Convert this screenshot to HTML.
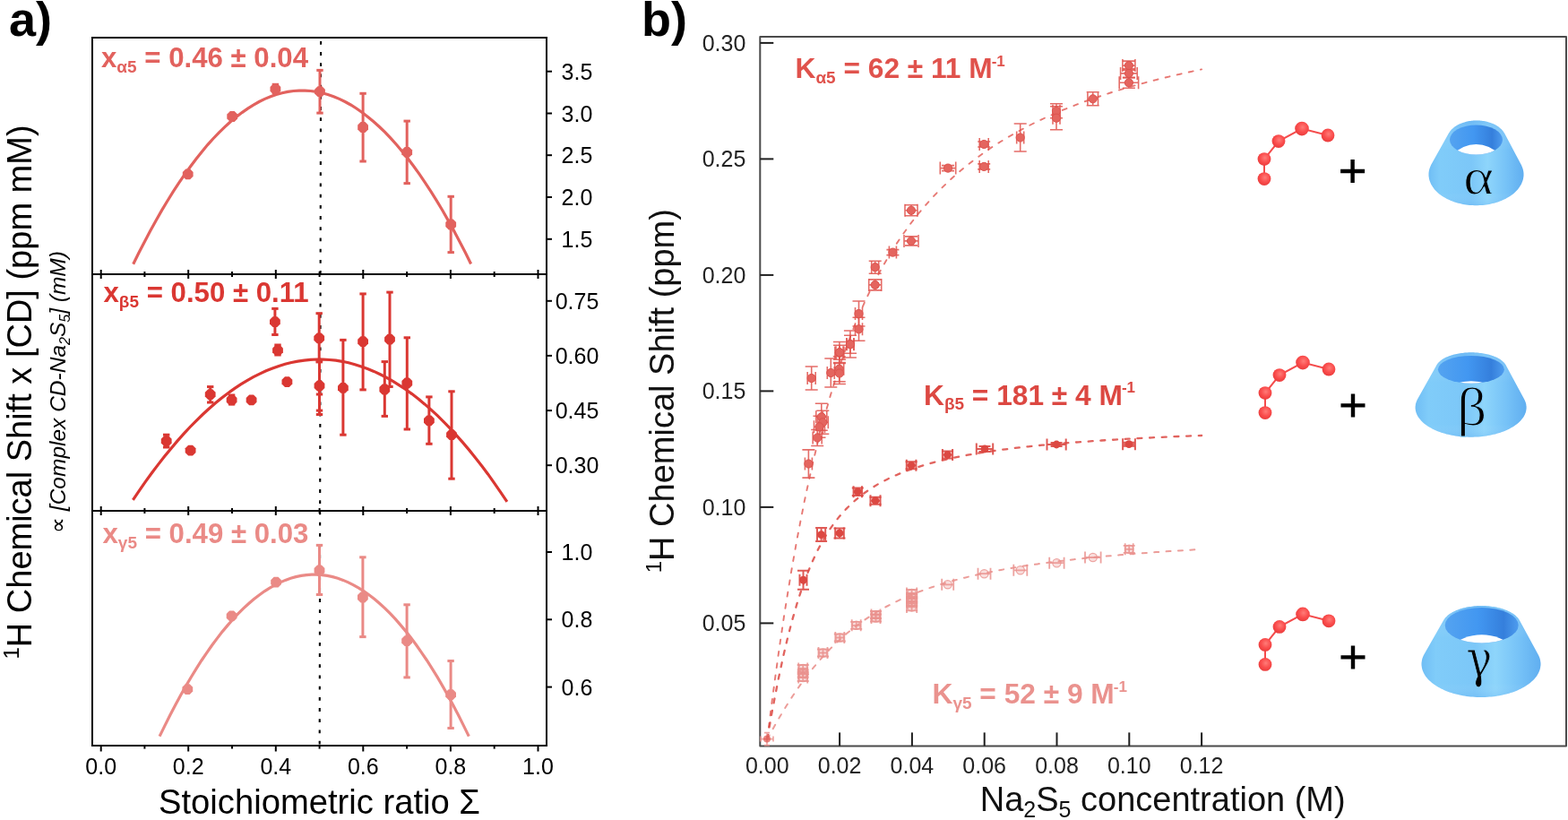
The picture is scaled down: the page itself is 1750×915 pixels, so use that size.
<!DOCTYPE html><html><head><meta charset="utf-8"><style>html,body{margin:0;padding:0;background:#fff;overflow:hidden}svg{display:block}</style></head><body>
<svg width="1750" height="915" viewBox="0 0 1750 915" font-family='"Liberation Sans", Arial, Helvetica, sans-serif'>
<rect width="100%" height="100%" fill="#fff"/>
<text x="10" y="39.7" font-size="54" font-weight="bold" fill="#000">a)</text>
<text x="716" y="39.7" font-size="54" font-weight="bold" fill="#000">b)</text>
<g stroke="#000" stroke-width="2" fill="none">
<rect x="103" y="42" width="507" height="790"/>
<line x1="103" y1="306" x2="610" y2="306"/>
<line x1="103" y1="570" x2="610" y2="570"/>
<line x1="112.7" y1="301" x2="112.7" y2="311"/>
<line x1="112.7" y1="565" x2="112.7" y2="575"/>
<line x1="112.7" y1="832" x2="112.7" y2="838.5"/>
<line x1="161.4" y1="303" x2="161.4" y2="309"/>
<line x1="161.4" y1="567" x2="161.4" y2="573"/>
<line x1="161.4" y1="832" x2="161.4" y2="835.6"/>
<line x1="210.2" y1="301" x2="210.2" y2="311"/>
<line x1="210.2" y1="565" x2="210.2" y2="575"/>
<line x1="210.2" y1="832" x2="210.2" y2="838.5"/>
<line x1="259" y1="303" x2="259" y2="309"/>
<line x1="259" y1="567" x2="259" y2="573"/>
<line x1="259" y1="832" x2="259" y2="835.6"/>
<line x1="307.8" y1="301" x2="307.8" y2="311"/>
<line x1="307.8" y1="565" x2="307.8" y2="575"/>
<line x1="307.8" y1="832" x2="307.8" y2="838.5"/>
<line x1="356.6" y1="303" x2="356.6" y2="309"/>
<line x1="356.6" y1="567" x2="356.6" y2="573"/>
<line x1="356.6" y1="832" x2="356.6" y2="835.6"/>
<line x1="405.3" y1="301" x2="405.3" y2="311"/>
<line x1="405.3" y1="565" x2="405.3" y2="575"/>
<line x1="405.3" y1="832" x2="405.3" y2="838.5"/>
<line x1="454.1" y1="303" x2="454.1" y2="309"/>
<line x1="454.1" y1="567" x2="454.1" y2="573"/>
<line x1="454.1" y1="832" x2="454.1" y2="835.6"/>
<line x1="502.9" y1="301" x2="502.9" y2="311"/>
<line x1="502.9" y1="565" x2="502.9" y2="575"/>
<line x1="502.9" y1="832" x2="502.9" y2="838.5"/>
<line x1="551.7" y1="303" x2="551.7" y2="309"/>
<line x1="551.7" y1="567" x2="551.7" y2="573"/>
<line x1="551.7" y1="832" x2="551.7" y2="835.6"/>
<line x1="600.5" y1="301" x2="600.5" y2="311"/>
<line x1="600.5" y1="565" x2="600.5" y2="575"/>
<line x1="600.5" y1="832" x2="600.5" y2="838.5"/>
<line x1="610" y1="79.7" x2="616" y2="79.7"/>
<line x1="610" y1="126.5" x2="616" y2="126.5"/>
<line x1="610" y1="173.2" x2="616" y2="173.2"/>
<line x1="610" y1="220" x2="616" y2="220"/>
<line x1="610" y1="266.8" x2="616" y2="266.8"/>
<line x1="610" y1="335.8" x2="616" y2="335.8"/>
<line x1="610" y1="396.9" x2="616" y2="396.9"/>
<line x1="610" y1="458.1" x2="616" y2="458.1"/>
<line x1="610" y1="519.2" x2="616" y2="519.2"/>
<line x1="610" y1="616" x2="616" y2="616"/>
<line x1="610" y1="691.3" x2="616" y2="691.3"/>
<line x1="610" y1="766.6" x2="616" y2="766.6"/>
</g>
<line x1="358.1" y1="45.9" x2="356.7" y2="832" stroke="#000" stroke-width="2.1" stroke-dasharray="3.8 8.4"/>
<g font-size="25" fill="#000" text-anchor="middle">
<text x="112.7" y="863.5">0.0</text>
<text x="210.2" y="863.5">0.2</text>
<text x="307.8" y="863.5">0.4</text>
<text x="405.3" y="863.5">0.6</text>
<text x="502.9" y="863.5">0.8</text>
<text x="600.5" y="863.5">1.0</text>
<text x="644" y="88.7">3.5</text>
<text x="644" y="135.5">3.0</text>
<text x="644" y="182.2">2.5</text>
<text x="644" y="229">2.0</text>
<text x="644" y="275.8">1.5</text>
<text x="644" y="344.8">0.75</text>
<text x="644" y="405.9">0.60</text>
<text x="644" y="467.1">0.45</text>
<text x="644" y="528.2">0.30</text>
<text x="644" y="625">1.0</text>
<text x="644" y="700.3">0.8</text>
<text x="644" y="775.6">0.6</text>
</g>
<text x="356.5" y="907.5" font-size="38.2" text-anchor="middle" fill="#000">Stoichiometric ratio Σ</text>
<text transform="translate(35.4,437.5) rotate(-90)" font-size="38" text-anchor="middle" fill="#000"><tspan font-size="24" dy="-14">1</tspan><tspan dy="14">H Chemical Shift x [CD] (ppm mM)</tspan></text>
<text transform="translate(73,437.5) rotate(-90)" font-size="24.5" font-style="italic" text-anchor="middle" fill="#000"><tspan font-style="normal">∝</tspan> [Complex CD-Na<tspan font-size="16" dy="5">2</tspan><tspan dy="-5">S</tspan><tspan font-size="16" dy="5">5</tspan><tspan dy="-5">] (mM)</tspan></text>
<path d="M148.7,294.7 L155.1,281.8 L161.5,269.4 L167.9,257.3 L174.3,245.8 L180.6,234.6 L187.0,224.0 L193.4,213.7 L199.8,203.9 L206.2,194.6 L212.6,185.7 L219.0,177.2 L225.4,169.2 L231.7,161.6 L238.1,154.5 L244.5,147.8 L250.9,141.6 L257.3,135.8 L263.7,130.5 L270.1,125.6 L276.5,121.1 L282.9,117.1 L289.2,113.5 L295.6,110.4 L302.0,107.7 L308.4,105.5 L314.8,103.7 L321.2,102.4 L327.6,101.5 L334.0,101.1 L340.3,101.1 L346.7,101.5 L353.1,102.4 L359.5,103.7 L365.9,105.5 L372.3,107.7 L378.7,110.4 L385.1,113.5 L391.4,117.0 L397.8,121.0 L404.2,125.5 L410.6,130.4 L417.0,135.7 L423.4,141.5 L429.8,147.7 L436.2,154.4 L442.6,161.5 L448.9,169.1 L455.3,177.1 L461.7,185.5 L468.1,194.4 L474.5,203.8 L480.9,213.6 L487.3,223.8 L493.7,234.5 L500.0,245.6 L506.4,257.1 L512.8,269.2 L519.2,281.6 L525.6,294.5" stroke="#E2625E" stroke-width="3.2" fill="none"/>
<polygon points="215.6,196.7 212.1,200.2 207.3,200.2 203.8,196.7 203.8,191.9 207.3,188.4 212.1,188.4 215.6,191.9" fill="#E2625E"/>
<polygon points="265.1,132.4 261.6,135.9 256.8,135.9 253.3,132.4 253.3,127.6 256.8,124.1 261.6,124.1 265.1,127.6" fill="#E2625E"/>
<line x1="307.4" y1="94.3" x2="307.4" y2="104" stroke="#E2625E" stroke-width="3"/><rect x="303.7" y="92.8" width="7.4" height="3" fill="#E2625E"/><rect x="303.7" y="102.5" width="7.4" height="3" fill="#E2625E"/>
<polygon points="313.3,101.7 309.8,105.2 305.0,105.2 301.5,101.7 301.5,96.9 305.0,93.4 309.8,93.4 313.3,96.9" fill="#E2625E"/>
<line x1="357" y1="78.4" x2="357" y2="126.1" stroke="#E2625E" stroke-width="3"/><rect x="353.3" y="76.9" width="7.4" height="3" fill="#E2625E"/><rect x="353.3" y="124.6" width="7.4" height="3" fill="#E2625E"/>
<polygon points="362.9,104.5 359.4,108.0 354.6,108.0 351.1,104.5 351.1,99.7 354.6,96.2 359.4,96.2 362.9,99.7" fill="#E2625E"/>
<line x1="405.1" y1="104.3" x2="405.1" y2="180" stroke="#E2625E" stroke-width="3"/><rect x="401.4" y="102.8" width="7.4" height="3" fill="#E2625E"/><rect x="401.4" y="178.5" width="7.4" height="3" fill="#E2625E"/>
<polygon points="411.0,144.4 407.5,147.9 402.7,147.9 399.2,144.4 399.2,139.6 402.7,136.1 407.5,136.1 411.0,139.6" fill="#E2625E"/>
<line x1="454.2" y1="135.1" x2="454.2" y2="204.6" stroke="#E2625E" stroke-width="3"/><rect x="450.5" y="133.6" width="7.4" height="3" fill="#E2625E"/><rect x="450.5" y="203.1" width="7.4" height="3" fill="#E2625E"/>
<polygon points="460.1,172.2 456.6,175.7 451.8,175.7 448.3,172.2 448.3,167.4 451.8,163.9 456.6,163.9 460.1,167.4" fill="#E2625E"/>
<line x1="503.2" y1="219.3" x2="503.2" y2="281.6" stroke="#E2625E" stroke-width="3"/><rect x="499.5" y="217.8" width="7.4" height="3" fill="#E2625E"/><rect x="499.5" y="280.1" width="7.4" height="3" fill="#E2625E"/>
<polygon points="509.1,252.9 505.6,256.4 500.8,256.4 497.3,252.9 497.3,248.1 500.8,244.6 505.6,244.6 509.1,248.1" fill="#E2625E"/>
<text x="113" y="75.3" font-size="31.2" font-weight="bold" fill="#E2625E">x<tspan font-size="19" dy="5.8">α5</tspan><tspan dy="-5.8"> = 0.46 ± 0.04</tspan></text>
<path d="M148.4,557.9 L155.5,547.4 L162.6,537.2 L169.6,527.5 L176.7,518.1 L183.8,509.1 L190.9,500.4 L197.9,492.1 L205.0,484.1 L212.1,476.5 L219.2,469.3 L226.2,462.5 L233.3,456.0 L240.4,449.8 L247.5,444.1 L254.5,438.7 L261.6,433.6 L268.7,428.9 L275.8,424.6 L282.8,420.6 L289.9,417.1 L297.0,413.8 L304.1,411.0 L311.2,408.4 L318.2,406.3 L325.3,404.5 L332.4,403.1 L339.5,402.1 L346.5,401.4 L353.6,401.0 L360.7,401.1 L367.8,401.5 L374.8,402.2 L381.9,403.3 L389.0,404.8 L396.1,406.7 L403.1,408.9 L410.2,411.5 L417.3,414.4 L424.4,417.7 L431.5,421.3 L438.5,425.4 L445.6,429.8 L452.7,434.5 L459.8,439.6 L466.8,445.1 L473.9,450.9 L481.0,457.1 L488.1,463.7 L495.1,470.6 L502.2,477.9 L509.3,485.6 L516.4,493.6 L523.4,501.9 L530.5,510.7 L537.6,519.8 L544.7,529.2 L551.7,539.1 L558.8,549.3 L565.9,559.8" stroke="#DA3732" stroke-width="3.2" fill="none"/>
<line x1="185.7" y1="485.2" x2="185.7" y2="499" stroke="#DA3732" stroke-width="3"/><rect x="182" y="483.7" width="7.4" height="3" fill="#DA3732"/><rect x="182" y="497.5" width="7.4" height="3" fill="#DA3732"/>
<polygon points="191.6,494.6 188.1,498.1 183.3,498.1 179.8,494.6 179.8,489.8 183.3,486.3 188.1,486.3 191.6,489.8" fill="#DA3732"/>
<polygon points="218.5,505.0 215.0,508.5 210.2,508.5 206.7,505.0 206.7,500.2 210.2,496.7 215.0,496.7 218.5,500.2" fill="#DA3732"/>
<line x1="234.7" y1="431.6" x2="234.7" y2="449" stroke="#DA3732" stroke-width="3"/><rect x="231" y="430.1" width="7.4" height="3" fill="#DA3732"/><rect x="231" y="447.5" width="7.4" height="3" fill="#DA3732"/>
<polygon points="240.6,442.6 237.1,446.1 232.3,446.1 228.8,442.6 228.8,437.8 232.3,434.3 237.1,434.3 240.6,437.8" fill="#DA3732"/>
<line x1="258.6" y1="441" x2="258.6" y2="451" stroke="#DA3732" stroke-width="3"/><rect x="254.9" y="439.5" width="7.4" height="3" fill="#DA3732"/><rect x="254.9" y="449.5" width="7.4" height="3" fill="#DA3732"/>
<polygon points="264.5,448.7 261.0,452.2 256.2,452.2 252.7,448.7 252.7,443.9 256.2,440.4 261.0,440.4 264.5,443.9" fill="#DA3732"/>
<polygon points="286.5,448.7 283.0,452.2 278.2,452.2 274.7,448.7 274.7,443.9 278.2,440.4 283.0,440.4 286.5,443.9" fill="#DA3732"/>
<line x1="306.9" y1="344.4" x2="306.9" y2="373.5" stroke="#DA3732" stroke-width="3"/><rect x="303.2" y="342.9" width="7.4" height="3" fill="#DA3732"/><rect x="303.2" y="372" width="7.4" height="3" fill="#DA3732"/>
<polygon points="312.8,361.5 309.3,365.0 304.5,365.0 301.0,361.5 301.0,356.7 304.5,353.2 309.3,353.2 312.8,356.7" fill="#DA3732"/>
<line x1="310" y1="385" x2="310" y2="396" stroke="#DA3732" stroke-width="3"/><rect x="306.3" y="383.5" width="7.4" height="3" fill="#DA3732"/><rect x="306.3" y="394.5" width="7.4" height="3" fill="#DA3732"/>
<polygon points="315.9,393.3 312.4,396.8 307.6,396.8 304.1,393.3 304.1,388.5 307.6,385.0 312.4,385.0 315.9,388.5" fill="#DA3732"/>
<polygon points="326.3,428.5 322.8,432.0 318.0,432.0 314.5,428.5 314.5,423.7 318.0,420.2 322.8,420.2 326.3,423.7" fill="#DA3732"/>
<line x1="356.2" y1="349.7" x2="356.2" y2="403.9" stroke="#DA3732" stroke-width="3"/><rect x="352.5" y="348.2" width="7.4" height="3" fill="#DA3732"/><rect x="352.5" y="402.4" width="7.4" height="3" fill="#DA3732"/>
<polygon points="362.1,379.7 358.6,383.2 353.8,383.2 350.3,379.7 350.3,374.9 353.8,371.4 358.6,371.4 362.1,374.9" fill="#DA3732"/>
<line x1="356.5" y1="403" x2="356.5" y2="458.1" stroke="#DA3732" stroke-width="3"/><rect x="352.8" y="401.5" width="7.4" height="3" fill="#DA3732"/><rect x="352.8" y="456.6" width="7.4" height="3" fill="#DA3732"/>
<polygon points="362.4,432.9 358.9,436.4 354.1,436.4 350.6,432.9 350.6,428.1 354.1,424.6 358.9,424.6 362.4,428.1" fill="#DA3732"/>
<line x1="382.9" y1="379.4" x2="382.9" y2="485.2" stroke="#DA3732" stroke-width="3"/><rect x="379.2" y="377.9" width="7.4" height="3" fill="#DA3732"/><rect x="379.2" y="483.7" width="7.4" height="3" fill="#DA3732"/>
<polygon points="388.8,435.2 385.3,438.7 380.5,438.7 377.0,435.2 377.0,430.4 380.5,426.9 385.3,426.9 388.8,430.4" fill="#DA3732"/>
<line x1="405.1" y1="327.9" x2="405.1" y2="434.9" stroke="#DA3732" stroke-width="3"/><rect x="401.4" y="326.4" width="7.4" height="3" fill="#DA3732"/><rect x="401.4" y="433.4" width="7.4" height="3" fill="#DA3732"/>
<polygon points="411.0,383.6 407.5,387.1 402.7,387.1 399.2,383.6 399.2,378.8 402.7,375.3 407.5,375.3 411.0,378.8" fill="#DA3732"/>
<line x1="429.3" y1="403.6" x2="429.3" y2="464.4" stroke="#DA3732" stroke-width="3"/><rect x="425.6" y="402.1" width="7.4" height="3" fill="#DA3732"/><rect x="425.6" y="462.9" width="7.4" height="3" fill="#DA3732"/>
<polygon points="435.2,436.9 431.7,440.4 426.9,440.4 423.4,436.9 423.4,432.1 426.9,428.6 431.7,428.6 435.2,432.1" fill="#DA3732"/>
<line x1="435" y1="326.1" x2="435" y2="431.5" stroke="#DA3732" stroke-width="3"/><rect x="431.3" y="324.6" width="7.4" height="3" fill="#DA3732"/><rect x="431.3" y="430" width="7.4" height="3" fill="#DA3732"/>
<polygon points="440.9,381.0 437.4,384.5 432.6,384.5 429.1,381.0 429.1,376.2 432.6,372.7 437.4,372.7 440.9,376.2" fill="#DA3732"/>
<line x1="454.3" y1="376.8" x2="454.3" y2="479" stroke="#DA3732" stroke-width="3"/><rect x="450.6" y="375.3" width="7.4" height="3" fill="#DA3732"/><rect x="450.6" y="477.5" width="7.4" height="3" fill="#DA3732"/>
<polygon points="460.2,429.9 456.7,433.4 451.9,433.4 448.4,429.9 448.4,425.1 451.9,421.6 456.7,421.6 460.2,425.1" fill="#DA3732"/>
<line x1="478.9" y1="442.9" x2="478.9" y2="495.3" stroke="#DA3732" stroke-width="3"/><rect x="475.2" y="441.4" width="7.4" height="3" fill="#DA3732"/><rect x="475.2" y="493.8" width="7.4" height="3" fill="#DA3732"/>
<polygon points="484.8,471.7 481.3,475.2 476.5,475.2 473.0,471.7 473.0,466.9 476.5,463.4 481.3,463.4 484.8,466.9" fill="#DA3732"/>
<line x1="504" y1="436.8" x2="504" y2="534.2" stroke="#DA3732" stroke-width="3"/><rect x="500.3" y="435.3" width="7.4" height="3" fill="#DA3732"/><rect x="500.3" y="532.7" width="7.4" height="3" fill="#DA3732"/>
<polygon points="509.9,487.6 506.4,491.1 501.6,491.1 498.1,487.6 498.1,482.8 501.6,479.3 506.4,479.3 509.9,482.8" fill="#DA3732"/>
<line x1="356.5" y1="440" x2="356.5" y2="462.5" stroke="#DA3732" stroke-width="3"/><rect x="352.8" y="438.5" width="7.4" height="3" fill="#DA3732"/><rect x="352.8" y="461" width="7.4" height="3" fill="#DA3732"/>
<text x="115.5" y="336.7" font-size="31.2" font-weight="bold" fill="#DA3732">x<tspan font-size="19" dy="5.8">β5</tspan><tspan dy="-5.8"> = 0.50 ± 0.11</tspan></text>
<path d="M178.1,821.6 L184.0,809.6 L189.8,798.0 L195.7,786.8 L201.5,776.0 L207.4,765.6 L213.2,755.7 L219.1,746.1 L224.9,737.0 L230.8,728.3 L236.6,720.0 L242.5,712.1 L248.3,704.6 L254.2,697.6 L260.0,690.9 L265.9,684.7 L271.7,678.9 L277.6,673.5 L283.4,668.5 L289.3,664.0 L295.1,659.8 L301.0,656.1 L306.8,652.8 L312.7,649.9 L318.5,647.4 L324.4,645.3 L330.2,643.6 L336.1,642.4 L341.9,641.6 L347.8,641.2 L353.6,641.2 L359.5,641.6 L365.3,642.4 L371.2,643.6 L377.0,645.3 L382.9,647.4 L388.7,649.9 L394.6,652.8 L400.4,656.1 L406.3,659.8 L412.1,664.0 L418.0,668.5 L423.8,673.5 L429.7,678.9 L435.5,684.7 L441.4,690.9 L447.2,697.6 L453.1,704.6 L458.9,712.1 L464.8,720.0 L470.6,728.3 L476.5,737.0 L482.3,746.1 L488.2,755.7 L494.0,765.6 L499.9,776.0 L505.7,786.8 L511.6,798.0 L517.4,809.6 L523.3,821.6" stroke="#EA8A86" stroke-width="3.2" fill="none"/>
<polygon points="215.2,771.5 211.7,775.0 206.9,775.0 203.4,771.5 203.4,766.7 206.9,763.2 211.7,763.2 215.2,766.7" fill="#EA8A86"/>
<polygon points="264.5,689.7 261.0,693.2 256.2,693.2 252.7,689.7 252.7,684.9 256.2,681.4 261.0,681.4 264.5,684.9" fill="#EA8A86"/>
<polygon points="314.0,652.1 310.5,655.6 305.7,655.6 302.2,652.1 302.2,647.3 305.7,643.8 310.5,643.8 314.0,647.3" fill="#EA8A86"/>
<line x1="356.5" y1="608.4" x2="356.5" y2="663.5" stroke="#EA8A86" stroke-width="3"/><rect x="352.8" y="606.9" width="7.4" height="3" fill="#EA8A86"/><rect x="352.8" y="662" width="7.4" height="3" fill="#EA8A86"/>
<polygon points="362.4,638.9 358.9,642.4 354.1,642.4 350.6,638.9 350.6,634.1 354.1,630.6 358.9,630.6 362.4,634.1" fill="#EA8A86"/>
<line x1="404.9" y1="621.8" x2="404.9" y2="710.6" stroke="#EA8A86" stroke-width="3"/><rect x="401.2" y="620.3" width="7.4" height="3" fill="#EA8A86"/><rect x="401.2" y="709.1" width="7.4" height="3" fill="#EA8A86"/>
<polygon points="410.8,668.9 407.3,672.4 402.5,672.4 399.0,668.9 399.0,664.1 402.5,660.6 407.3,660.6 410.8,664.1" fill="#EA8A86"/>
<line x1="454.1" y1="674.8" x2="454.1" y2="755.9" stroke="#EA8A86" stroke-width="3"/><rect x="450.4" y="673.3" width="7.4" height="3" fill="#EA8A86"/><rect x="450.4" y="754.4" width="7.4" height="3" fill="#EA8A86"/>
<polygon points="460.0,717.6 456.5,721.1 451.7,721.1 448.2,717.6 448.2,712.8 451.7,709.3 456.5,709.3 460.0,712.8" fill="#EA8A86"/>
<line x1="503.1" y1="737.5" x2="503.1" y2="812.5" stroke="#EA8A86" stroke-width="3"/><rect x="499.4" y="736" width="7.4" height="3" fill="#EA8A86"/><rect x="499.4" y="811" width="7.4" height="3" fill="#EA8A86"/>
<polygon points="509.0,777.6 505.5,781.1 500.7,781.1 497.2,777.6 497.2,772.8 500.7,769.3 505.5,769.3 509.0,772.8" fill="#EA8A86"/>
<text x="114.5" y="605.9" font-size="31.2" font-weight="bold" fill="#EA8A86">x<tspan font-size="19" dy="5.8">γ5</tspan><tspan dy="-5.8"> = 0.49 ± 0.03</tspan></text>
<rect x="848.3" y="41" width="899.7" height="791.4" stroke="#4a4a4a" stroke-width="2" fill="none" stroke-linejoin="round"/>
<g stroke="#1e1e1e" stroke-width="2" fill="none">
<line x1="848.3" y1="695.4" x2="863.3" y2="695.4"/>
<line x1="848.3" y1="565.9" x2="863.3" y2="565.9"/>
<line x1="848.3" y1="436.4" x2="863.3" y2="436.4"/>
<line x1="848.3" y1="306.9" x2="863.3" y2="306.9"/>
<line x1="848.3" y1="177.4" x2="863.3" y2="177.4"/>
<line x1="848.3" y1="47.9" x2="863.3" y2="47.9"/>
<line x1="937.1" y1="832.4" x2="937.1" y2="817.4"/>
<line x1="1017.9" y1="832.4" x2="1017.9" y2="817.4"/>
<line x1="1098.7" y1="832.4" x2="1098.7" y2="817.4"/>
<line x1="1179.5" y1="832.4" x2="1179.5" y2="817.4"/>
<line x1="1260.3" y1="832.4" x2="1260.3" y2="817.4"/>
<line x1="1341.1" y1="832.4" x2="1341.1" y2="817.4"/>
</g>
<g font-size="25" fill="#222" text-anchor="middle">
<text x="808" y="704.4">0.05</text>
<text x="808" y="574.9">0.10</text>
<text x="808" y="445.4">0.15</text>
<text x="808" y="315.9">0.20</text>
<text x="808" y="186.4">0.25</text>
<text x="808" y="56.9">0.30</text>
<text x="856.3" y="863.2">0.00</text>
<text x="937.1" y="863.2">0.02</text>
<text x="1017.9" y="863.2">0.04</text>
<text x="1098.7" y="863.2">0.06</text>
<text x="1179.5" y="863.2">0.08</text>
<text x="1260.3" y="863.2">0.10</text>
<text x="1341.1" y="863.2">0.12</text>
</g>
<text x="1093.7" y="904.8" font-size="38" fill="#111">Na<tspan font-size="25" dy="7">2</tspan><tspan dy="-7">S</tspan><tspan font-size="25" dy="7">5</tspan><tspan dy="-7"> concentration (M)</tspan></text>
<text transform="translate(751.8,436.2) rotate(-90)" font-size="38" text-anchor="middle" fill="#111"><tspan font-size="24" dy="-14">1</tspan><tspan dy="14">H Chemical Shift (ppm)</tspan></text>
<path d="M856.3,824.9 L858.4,808.2 L860.4,791.9 L862.5,776.0 L864.6,760.4 L866.7,745.3 L868.7,730.6 L870.8,716.2 L872.9,702.2 L874.9,688.5 L877.0,675.3 L879.1,662.3 L881.2,649.7 L883.2,637.4 L885.3,625.4 L887.4,613.8 L889.4,602.4 L891.5,591.4 L893.6,580.6 L895.7,570.1 L897.7,559.9 L899.8,550.0 L901.9,540.3 L904.0,530.9 L906.0,521.7 L908.1,512.7 L910.2,504.0 L912.2,495.5 L914.3,487.2 L916.4,479.2 L918.5,471.3 L920.5,463.6 L922.6,456.1 L924.7,448.9 L926.7,441.8 L928.8,434.8 L930.9,428.1 L933.0,421.5 L935.0,415.0 L937.1,408.8 L939.1,402.8 L944.2,388.3 L949.3,374.7 L954.4,361.8 L959.5,349.7 L964.6,338.2 L969.7,327.3 L974.7,316.9 L979.8,307.2 L984.9,297.9 L990.0,289.0 L995.1,280.6 L1000.2,272.6 L1005.3,264.9 L1010.4,257.7 L1015.4,250.7 L1020.5,244.1 L1025.6,237.7 L1030.7,231.6 L1035.8,225.8 L1040.9,220.2 L1046.0,214.8 L1051.1,209.7 L1056.2,204.8 L1061.2,200.0 L1066.3,195.4 L1071.4,191.0 L1076.5,186.8 L1081.6,182.7 L1086.7,178.8 L1091.8,175.0 L1096.9,171.3 L1101.9,167.8 L1107.0,164.3 L1112.1,161.0 L1117.2,157.8 L1122.3,154.7 L1127.4,151.7 L1132.5,148.8 L1137.6,146.0 L1142.7,143.2 L1147.7,140.6 L1152.8,138.0 L1157.9,135.5 L1163.0,133.1 L1168.1,130.7 L1173.2,128.4 L1178.3,126.2 L1183.4,124.0 L1188.4,121.9 L1193.5,119.9 L1198.6,117.9 L1203.7,115.9 L1208.8,114.0 L1213.9,112.1 L1219.0,110.3 L1224.1,108.6 L1229.2,106.9 L1234.2,105.2 L1239.3,103.5 L1244.4,101.9 L1249.5,100.4 L1254.6,98.9 L1259.7,97.4 L1264.8,95.9 L1269.9,94.5 L1275.0,93.1 L1280.0,91.7 L1285.1,90.4 L1290.2,89.1 L1295.3,87.8 L1300.4,86.6 L1305.5,85.3 L1310.6,84.1 L1315.7,83.0 L1320.7,81.8 L1325.8,80.7 L1330.9,79.6 L1336.0,78.5 L1341.1,77.4" stroke="#E0524C" stroke-opacity="0.78" stroke-width="1.9" fill="none" stroke-dasharray="5 8.4" stroke-linecap="round"/>
<path d="M856.3,824.9 L858.4,812.9 L860.4,801.2 L862.5,789.9 L864.6,778.9 L866.7,768.3 L868.7,758.0 L870.8,748.0 L872.9,738.4 L874.9,729.2 L877.0,720.3 L879.1,711.7 L881.2,703.5 L883.2,695.6 L885.3,688.1 L887.4,680.8 L889.4,673.9 L891.5,667.2 L893.6,660.8 L895.7,654.8 L897.7,648.9 L899.8,643.4 L901.9,638.1 L904.0,633.0 L906.0,628.1 L908.1,623.5 L910.2,619.0 L912.2,614.8 L914.3,610.8 L916.4,606.9 L918.5,603.2 L920.5,599.6 L922.6,596.2 L924.7,593.0 L926.7,589.8 L928.8,586.9 L930.9,584.0 L933.0,581.2 L935.0,578.6 L937.1,576.1 L939.1,573.7 L944.2,568.1 L949.3,563.0 L954.4,558.4 L959.5,554.1 L964.6,550.3 L969.7,546.7 L974.7,543.4 L979.8,540.3 L984.9,537.5 L990.0,534.9 L995.1,532.4 L1000.2,530.2 L1005.3,528.0 L1010.4,526.0 L1015.4,524.2 L1020.5,522.4 L1025.6,520.8 L1030.7,519.2 L1035.8,517.7 L1040.9,516.3 L1046.0,515.0 L1051.1,513.8 L1056.2,512.6 L1061.2,511.4 L1066.3,510.4 L1071.4,509.3 L1076.5,508.4 L1081.6,507.4 L1086.7,506.5 L1091.8,505.7 L1096.9,504.9 L1101.9,504.1 L1107.0,503.3 L1112.1,502.6 L1117.2,501.9 L1122.3,501.3 L1127.4,500.6 L1132.5,500.0 L1137.6,499.4 L1142.7,498.8 L1147.7,498.3 L1152.8,497.8 L1157.9,497.2 L1163.0,496.7 L1168.1,496.3 L1173.2,495.8 L1178.3,495.3 L1183.4,494.9 L1188.4,494.5 L1193.5,494.1 L1198.6,493.7 L1203.7,493.3 L1208.8,492.9 L1213.9,492.6 L1219.0,492.2 L1224.1,491.9 L1229.2,491.5 L1234.2,491.2 L1239.3,490.9 L1244.4,490.6 L1249.5,490.3 L1254.6,490.0 L1259.7,489.7 L1264.8,489.4 L1269.9,489.2 L1275.0,488.9 L1280.0,488.6 L1285.1,488.4 L1290.2,488.1 L1295.3,487.9 L1300.4,487.7 L1305.5,487.4 L1310.6,487.2 L1315.7,487.0 L1320.7,486.8 L1325.8,486.6 L1330.9,486.4 L1336.0,486.2 L1341.1,486.0" stroke="#DC4842" stroke-opacity="0.85" stroke-width="2.3" fill="none" stroke-dasharray="5 8.7" stroke-linecap="round"/>
<path d="M856.3,824.9 L858.4,821.0 L860.4,817.2 L862.5,813.5 L864.6,809.8 L866.7,806.1 L868.7,802.5 L870.8,799.0 L872.9,795.5 L874.9,792.1 L877.0,788.7 L879.1,785.4 L881.2,782.1 L883.2,778.9 L885.3,775.8 L887.4,772.7 L889.4,769.6 L891.5,766.7 L893.6,763.7 L895.7,760.9 L897.7,758.0 L899.8,755.3 L901.9,752.6 L904.0,749.9 L906.0,747.3 L908.1,744.7 L910.2,742.2 L912.2,739.8 L914.3,737.3 L916.4,735.0 L918.5,732.7 L920.5,730.4 L922.6,728.2 L924.7,726.0 L926.7,723.9 L928.8,721.8 L930.9,719.7 L933.0,717.7 L935.0,715.8 L937.1,713.9 L939.1,712.0 L944.2,707.6 L949.3,703.4 L954.4,699.4 L959.5,695.6 L964.6,692.0 L969.7,688.6 L974.7,685.3 L979.8,682.2 L984.9,679.3 L990.0,676.5 L995.1,673.9 L1000.2,671.3 L1005.3,668.9 L1010.4,666.7 L1015.4,664.5 L1020.5,662.4 L1025.6,660.4 L1030.7,658.5 L1035.8,656.7 L1040.9,655.0 L1046.0,653.3 L1051.1,651.7 L1056.2,650.2 L1061.2,648.7 L1066.3,647.3 L1071.4,646.0 L1076.5,644.7 L1081.6,643.4 L1086.7,642.2 L1091.8,641.1 L1096.9,640.0 L1101.9,638.9 L1107.0,637.9 L1112.1,636.9 L1117.2,635.9 L1122.3,635.0 L1127.4,634.1 L1132.5,633.3 L1137.6,632.4 L1142.7,631.6 L1147.7,630.8 L1152.8,630.1 L1157.9,629.4 L1163.0,628.6 L1168.1,628.0 L1173.2,627.3 L1178.3,626.6 L1183.4,626.0 L1188.4,625.4 L1193.5,624.8 L1198.6,624.2 L1203.7,623.7 L1208.8,623.1 L1213.9,622.6 L1219.0,622.1 L1224.1,621.6 L1229.2,621.1 L1234.2,620.6 L1239.3,620.2 L1244.4,619.7 L1249.5,619.3 L1254.6,618.8 L1259.7,618.4 L1264.8,618.0 L1269.9,617.6 L1275.0,617.2 L1280.0,616.9 L1285.1,616.5 L1290.2,616.1 L1295.3,615.8 L1300.4,615.4 L1305.5,615.1 L1310.6,614.8 L1315.7,614.4 L1320.7,614.1 L1325.8,613.8 L1330.9,613.5 L1336.0,613.2 L1341.1,612.9" stroke="#EA928E" stroke-opacity="0.9" stroke-width="2" fill="none" stroke-dasharray="5 8.4" stroke-linecap="round"/>
<g stroke="#E0524C" stroke-width="1.6" stroke-opacity="0.85" fill="none"><path d="M905.7,409V435M898.7,409h14M898.7,435h14"/><path d="M901.2,422H910.2M901.2,415v14M910.2,415v14"/></g>
<g stroke="#E0524C" stroke-width="1.6" stroke-opacity="0.85" fill="none"><path d="M927.3,400V432M920.3,400h14M920.3,432h14"/><path d="M923.3,416H931.3M923.3,409v14M931.3,409v14"/></g>
<g stroke="#E0524C" stroke-width="1.6" stroke-opacity="0.85" fill="none"><path d="M936.9,381.5V405.5M929.9,381.5h14M929.9,405.5h14"/><path d="M931.9,393.5H941.9M931.9,386.5v14M941.9,386.5v14"/></g>
<g stroke="#E0524C" stroke-width="1.6" stroke-opacity="0.85" fill="none"><path d="M936.7,397.7V425.7M929.7,397.7h14M929.7,425.7h14"/><path d="M931.7,411.7H941.7M931.7,404.7v14M941.7,404.7v14"/></g>
<g stroke="#E0524C" stroke-width="1.6" stroke-opacity="0.85" fill="none"><path d="M936.9,404.5V428.5M929.9,404.5h14M929.9,428.5h14"/></g>
<g stroke="#E0524C" stroke-width="1.6" stroke-opacity="0.85" fill="none"><path d="M948.9,369V399M941.9,369h14M941.9,399h14"/><path d="M944.9,384H952.9M944.9,377v14M952.9,377v14"/></g>
<g stroke="#E0524C" stroke-width="1.6" stroke-opacity="0.85" fill="none"><path d="M958.5,336V364M951.5,336h14M951.5,364h14"/><path d="M954.5,350H962.5M954.5,343v14M962.5,343v14"/></g>
<g stroke="#E0524C" stroke-width="1.6" stroke-opacity="0.85" fill="none"><path d="M958.5,354.3V380.3M951.5,354.3h14M951.5,380.3h14"/><path d="M954.5,367.3H962.5M954.5,360.3v14M962.5,360.3v14"/></g>
<g stroke="#E0524C" stroke-width="1.6" stroke-opacity="0.85" fill="none"><path d="M976.7,291.2V305.2M969.7,291.2h14M969.7,305.2h14"/><path d="M972.7,298.2H980.7M972.7,291.2v14M980.7,291.2v14"/></g>
<g stroke="#E0524C" stroke-width="1.6" stroke-opacity="0.85" fill="none"><path d="M976.7,311.9V323.9M969.7,311.9h14M969.7,323.9h14"/><path d="M969.7,317.9H983.7M969.7,310.9v14M983.7,310.9v14"/></g>
<g stroke="#E0524C" stroke-width="1.6" stroke-opacity="0.85" fill="none"><path d="M996.4,278.6V284.6M989.4,278.6h14M989.4,284.6h14"/><path d="M992.4,281.6H1000.4M992.4,274.6v14M1000.4,274.6v14"/></g>
<g stroke="#E0524C" stroke-width="1.6" stroke-opacity="0.85" fill="none"><path d="M1017,228.8V240.8M1010,228.8h14M1010,240.8h14"/><path d="M1010,234.8H1024M1010,227.8v14M1024,227.8v14"/></g>
<g stroke="#E0524C" stroke-width="1.6" stroke-opacity="0.85" fill="none"><path d="M1017,263.9V273.9M1010,263.9h14M1010,273.9h14"/><path d="M1009,268.9H1025M1009,261.9v14M1025,261.9v14"/></g>
<g stroke="#E0524C" stroke-width="1.6" stroke-opacity="0.85" fill="none"><path d="M1058,184.6V190.6M1051,184.6h14M1051,190.6h14"/><path d="M1049.3,187.6H1066.7M1049.3,180.6v14M1066.7,180.6v14"/></g>
<g stroke="#E0524C" stroke-width="1.6" stroke-opacity="0.85" fill="none"><path d="M1098.2,158V164M1091.2,158h14M1091.2,164h14"/><path d="M1093.2,161H1103.2M1093.2,154v14M1103.2,154v14"/></g>
<g stroke="#E0524C" stroke-width="1.6" stroke-opacity="0.85" fill="none"><path d="M1098.2,182.9V188.9M1091.2,182.9h14M1091.2,188.9h14"/><path d="M1093.2,185.9H1103.2M1093.2,178.9v14M1103.2,178.9v14"/></g>
<g stroke="#E0524C" stroke-width="1.6" stroke-opacity="0.85" fill="none"><path d="M1138.7,138V169M1131.7,138h14M1131.7,169h14"/><path d="M1134.7,153.5H1142.7M1134.7,146.5v14M1142.7,146.5v14"/></g>
<g stroke="#E0524C" stroke-width="1.6" stroke-opacity="0.85" fill="none"><path d="M1179,115.8V131.8M1172,115.8h14M1172,131.8h14"/><path d="M1175,123.8H1183M1175,116.8v14M1183,116.8v14"/></g>
<g stroke="#E0524C" stroke-width="1.6" stroke-opacity="0.85" fill="none"><path d="M1179,118.7V144.7M1172,118.7h14M1172,144.7h14"/><path d="M1175,131.7H1183M1175,124.7v14M1183,124.7v14"/></g>
<g stroke="#E0524C" stroke-width="1.6" stroke-opacity="0.85" fill="none"><path d="M1219.7,102.8V117.8M1212.7,102.8h14M1212.7,117.8h14"/><path d="M1213.9,110.3H1225.5M1213.9,103.3v14M1225.5,103.3v14"/></g>
<g stroke="#E0524C" stroke-width="1.6" stroke-opacity="0.85" fill="none"><path d="M1259.9,68.1V78.1M1252.9,68.1h14M1252.9,78.1h14"/><path d="M1252.9,73.1H1266.9M1252.9,66.1v14M1266.9,66.1v14"/></g>
<g stroke="#E0524C" stroke-width="1.6" stroke-opacity="0.85" fill="none"><path d="M1259.9,76.9V86.9M1252.9,76.9h14M1252.9,86.9h14"/><path d="M1250.6,81.9H1269.2M1250.6,74.9v14M1269.2,74.9v14"/></g>
<g stroke="#E0524C" stroke-width="1.6" stroke-opacity="0.85" fill="none"><path d="M1259.9,86.3V98.3M1252.9,86.3h14M1252.9,98.3h14"/><path d="M1249.2,92.3H1270.6M1249.2,85.3v14M1270.6,85.3v14"/></g>
<g stroke="#E0524C" stroke-width="1.6" stroke-opacity="0.85" fill="none"><path d="M902.4,501.9V533.1M895.4,501.9h14M895.4,533.1h14"/><path d="M898.4,517.5H906.4M898.4,510.5v14M906.4,510.5v14"/></g>
<g stroke="#E0524C" stroke-width="1.6" stroke-opacity="0.85" fill="none"><path d="M916.8,450.2V480.2M909.8,450.2h14M909.8,480.2h14"/><path d="M910.8,465.2H922.8M910.8,458.2v14M922.8,458.2v14"/></g>
<g stroke="#E0524C" stroke-width="1.6" stroke-opacity="0.85" fill="none"><path d="M918.3,458.3V484.3M911.3,458.3h14M911.3,484.3h14"/><path d="M912.3,471.3H924.3M912.3,464.3v14M924.3,464.3v14"/></g>
<g stroke="#E0524C" stroke-width="1.6" stroke-opacity="0.85" fill="none"><path d="M914.5,464.3V488.3M907.5,464.3h14M907.5,488.3h14"/><path d="M908.5,476.3H920.5M908.5,469.3v14M920.5,469.3v14"/></g>
<g stroke="#E0524C" stroke-width="1.6" stroke-opacity="0.85" fill="none"><path d="M912.2,479.5V497.5M905.2,479.5h14M905.2,497.5h14"/><path d="M907.2,488.5H917.2M907.2,481.5v14M917.2,481.5v14"/></g>
<g stroke="#E0524C" stroke-width="1.6" stroke-opacity="0.85" fill="none"><path d="M949,374.3V394.3M942,374.3h14M942,394.3h14"/><path d="M945,384.3H953M945,377.3v14M953,377.3v14"/></g>
<g stroke="#E0524C" stroke-width="1.6" stroke-opacity="0.85" fill="none"><path d="M937,385.2V401.2M930,385.2h14M930,401.2h14"/><path d="M933,393.2H941M933,386.2v14M941,386.2v14"/></g>
<circle cx="905.7" cy="422" r="4.6" fill="#E4655F" stroke="#DE534E" stroke-width="1"/>
<circle cx="927.3" cy="416" r="4.6" fill="#E4655F" stroke="#DE534E" stroke-width="1"/>
<circle cx="936.9" cy="393.5" r="4.6" fill="#E4655F" stroke="#DE534E" stroke-width="1"/>
<circle cx="936.7" cy="411.7" r="4.6" fill="#E4655F" stroke="#DE534E" stroke-width="1"/>
<circle cx="936.9" cy="416.5" r="4.6" fill="#E4655F" stroke="#DE534E" stroke-width="1"/>
<circle cx="948.9" cy="384" r="4.6" fill="#E4655F" stroke="#DE534E" stroke-width="1"/>
<circle cx="958.5" cy="350" r="4.6" fill="#E4655F" stroke="#DE534E" stroke-width="1"/>
<circle cx="958.5" cy="367.3" r="4.6" fill="#E4655F" stroke="#DE534E" stroke-width="1"/>
<circle cx="976.7" cy="298.2" r="4.6" fill="#E4655F" stroke="#DE534E" stroke-width="1"/>
<circle cx="976.7" cy="317.9" r="4.6" fill="#E4655F" stroke="#DE534E" stroke-width="1"/>
<circle cx="996.4" cy="281.6" r="4.6" fill="#E4655F" stroke="#DE534E" stroke-width="1"/>
<circle cx="1017" cy="234.8" r="4.6" fill="#E4655F" stroke="#DE534E" stroke-width="1"/>
<circle cx="1017" cy="268.9" r="4.6" fill="#E4655F" stroke="#DE534E" stroke-width="1"/>
<circle cx="1058" cy="187.6" r="4.6" fill="#E4655F" stroke="#DE534E" stroke-width="1"/>
<circle cx="1098.2" cy="161" r="4.6" fill="#E4655F" stroke="#DE534E" stroke-width="1"/>
<circle cx="1098.2" cy="185.9" r="4.6" fill="#E4655F" stroke="#DE534E" stroke-width="1"/>
<circle cx="1138.7" cy="153.5" r="4.6" fill="#E4655F" stroke="#DE534E" stroke-width="1"/>
<circle cx="1179" cy="123.8" r="4.6" fill="#E4655F" stroke="#DE534E" stroke-width="1"/>
<circle cx="1179" cy="131.7" r="4.6" fill="#E4655F" stroke="#DE534E" stroke-width="1"/>
<circle cx="1219.7" cy="110.3" r="4.6" fill="#E4655F" stroke="#DE534E" stroke-width="1"/>
<circle cx="1259.9" cy="73.1" r="4.6" fill="#E4655F" stroke="#DE534E" stroke-width="1"/>
<circle cx="1259.9" cy="81.9" r="4.6" fill="#E4655F" stroke="#DE534E" stroke-width="1"/>
<circle cx="1259.9" cy="92.3" r="4.6" fill="#E4655F" stroke="#DE534E" stroke-width="1"/>
<circle cx="902.4" cy="517.5" r="4.6" fill="#E4655F" stroke="#DE534E" stroke-width="1"/>
<circle cx="916.8" cy="465.2" r="4.6" fill="#E4655F" stroke="#DE534E" stroke-width="1"/>
<circle cx="918.3" cy="471.3" r="4.6" fill="#E4655F" stroke="#DE534E" stroke-width="1"/>
<circle cx="914.5" cy="476.3" r="4.6" fill="#E4655F" stroke="#DE534E" stroke-width="1"/>
<circle cx="912.2" cy="488.5" r="4.6" fill="#E4655F" stroke="#DE534E" stroke-width="1"/>
<circle cx="949" cy="384.3" r="4.6" fill="#E4655F" stroke="#DE534E" stroke-width="1"/>
<circle cx="937" cy="393.2" r="4.6" fill="#E4655F" stroke="#DE534E" stroke-width="1"/>
<g stroke="#DC4842" stroke-width="2" stroke-opacity="0.9" fill="none"><path d="M896.5,636.7V657.7M890,636.7h13M890,657.7h13"/><path d="M892.5,647.2H900.5M892.5,640.7v13M900.5,640.7v13"/></g>
<circle cx="896.5" cy="647.2" r="4.4" fill="#DC4842"/>
<g stroke="#DC4842" stroke-width="2" stroke-opacity="0.9" fill="none"><path d="M916.6,589.1V604.1M910.1,589.1h13M910.1,604.1h13"/><path d="M912,596.6H921.2M912,590.1v13M921.2,590.1v13"/></g>
<circle cx="916.6" cy="596.6" r="4.4" fill="#DC4842"/>
<g stroke="#DC4842" stroke-width="2" stroke-opacity="0.9" fill="none"><path d="M937,589.4V600.4M930.5,589.4h13M930.5,600.4h13"/><path d="M932.2,594.9H941.8M932.2,588.4v13M941.8,588.4v13"/></g>
<circle cx="937" cy="594.9" r="4.4" fill="#DC4842"/>
<g stroke="#DC4842" stroke-width="2" stroke-opacity="0.9" fill="none"><path d="M957.3,544.4V553M950.8,544.4h13M950.8,553h13"/><path d="M952.6,548.7H962M952.6,542.2v13M962,542.2v13"/></g>
<circle cx="957.3" cy="548.7" r="4.4" fill="#DC4842"/>
<g stroke="#DC4842" stroke-width="2" stroke-opacity="0.9" fill="none"><path d="M977,554.7V562.7M970.5,554.7h13M970.5,562.7h13"/><path d="M971.5,558.7H982.5M971.5,552.2v13M982.5,552.2v13"/></g>
<circle cx="977" cy="558.7" r="4.4" fill="#DC4842"/>
<g stroke="#DC4842" stroke-width="2" stroke-opacity="0.9" fill="none"><path d="M1017.1,515.3V523.3M1010.6,515.3h13M1010.6,523.3h13"/><path d="M1011.8,519.3H1022.4M1011.8,512.8v13M1022.4,512.8v13"/></g>
<circle cx="1017.1" cy="519.3" r="4.4" fill="#DC4842"/>
<g stroke="#DC4842" stroke-width="2" stroke-opacity="0.9" fill="none"><path d="M1057.5,503.5V511.5M1051,503.5h13M1051,511.5h13"/><path d="M1051.9,507.5H1063.1M1051.9,501v13M1063.1,501v13"/></g>
<circle cx="1057.5" cy="507.5" r="4.4" fill="#DC4842"/>
<g stroke="#DC4842" stroke-width="2" stroke-opacity="0.9" fill="none"><path d="M1099,498V504M1092.5,498h13M1092.5,504h13"/><path d="M1089.8,501H1108.2M1089.8,494.5v13M1108.2,494.5v13"/></g>
<circle cx="1099" cy="501" r="4.4" fill="#DC4842"/>
<g stroke="#DC4842" stroke-width="2" stroke-opacity="0.9" fill="none"><path d="M1179.1,494V498M1172.6,494h13M1172.6,498h13"/><path d="M1168.5,496H1189.7M1168.5,489.5v13M1189.7,489.5v13"/></g>
<circle cx="1179.1" cy="496" r="4.4" fill="#DC4842"/>
<g stroke="#DC4842" stroke-width="2" stroke-opacity="0.9" fill="none"><path d="M1260,493.7V497.7M1253.5,493.7h13M1253.5,497.7h13"/><path d="M1253.1,495.7H1266.9M1253.1,489.2v13M1266.9,489.2v13"/></g>
<circle cx="1260" cy="495.7" r="4.4" fill="#DC4842"/>
<g stroke="#EA928E" stroke-width="1.8" stroke-opacity="0.85" fill="none"><path d="M896.2,742V750M889.7,742h13M889.7,750h13"/><path d="M891.2,746H901.2M891.2,739.5v13M901.2,739.5v13"/></g>
<circle cx="896.2" cy="746" r="4.6" fill="#EA928E" fill-opacity="0.3" stroke="#EA928E" stroke-width="1.3" stroke-opacity="0.8"/>
<g stroke="#EA928E" stroke-width="1.8" stroke-opacity="0.85" fill="none"><path d="M896.2,747.6V755.6M889.7,747.6h13M889.7,755.6h13"/><path d="M891.2,751.6H901.2M891.2,745.1v13M901.2,745.1v13"/></g>
<circle cx="896.2" cy="751.6" r="4.6" fill="#EA928E" fill-opacity="0.3" stroke="#EA928E" stroke-width="1.3" stroke-opacity="0.8"/>
<g stroke="#EA928E" stroke-width="1.8" stroke-opacity="0.85" fill="none"><path d="M896.2,752V760M889.7,752h13M889.7,760h13"/><path d="M891.2,756H901.2M891.2,749.5v13M901.2,749.5v13"/></g>
<circle cx="896.2" cy="756" r="4.6" fill="#EA928E" fill-opacity="0.3" stroke="#EA928E" stroke-width="1.3" stroke-opacity="0.8"/>
<g stroke="#EA928E" stroke-width="1.8" stroke-opacity="0.85" fill="none"><path d="M918.5,724.5V732.5M912,724.5h13M912,732.5h13"/><path d="M913.5,728.5H923.5M913.5,722v13M923.5,722v13"/></g>
<circle cx="918.5" cy="728.5" r="4.6" fill="#EA928E" fill-opacity="0.3" stroke="#EA928E" stroke-width="1.3" stroke-opacity="0.8"/>
<g stroke="#EA928E" stroke-width="1.8" stroke-opacity="0.85" fill="none"><path d="M937.3,707.5V715.5M930.8,707.5h13M930.8,715.5h13"/><path d="M932.3,711.5H942.3M932.3,705v13M942.3,705v13"/></g>
<circle cx="937.3" cy="711.5" r="4.6" fill="#EA928E" fill-opacity="0.3" stroke="#EA928E" stroke-width="1.3" stroke-opacity="0.8"/>
<g stroke="#EA928E" stroke-width="1.8" stroke-opacity="0.85" fill="none"><path d="M955.7,693.8V701.8M949.2,693.8h13M949.2,701.8h13"/><path d="M950.7,697.8H960.7M950.7,691.3v13M960.7,691.3v13"/></g>
<circle cx="955.7" cy="697.8" r="4.6" fill="#EA928E" fill-opacity="0.3" stroke="#EA928E" stroke-width="1.3" stroke-opacity="0.8"/>
<g stroke="#EA928E" stroke-width="1.8" stroke-opacity="0.85" fill="none"><path d="M977.5,682V690M971,682h13M971,690h13"/><path d="M972.5,686H982.5M972.5,679.5v13M982.5,679.5v13"/></g>
<circle cx="977.5" cy="686" r="4.6" fill="#EA928E" fill-opacity="0.3" stroke="#EA928E" stroke-width="1.3" stroke-opacity="0.8"/>
<g stroke="#EA928E" stroke-width="1.8" stroke-opacity="0.85" fill="none"><path d="M977.5,685.5V693.5M971,685.5h13M971,693.5h13"/><path d="M972.5,689.5H982.5M972.5,683v13M982.5,683v13"/></g>
<circle cx="977.5" cy="689.5" r="4.6" fill="#EA928E" fill-opacity="0.3" stroke="#EA928E" stroke-width="1.3" stroke-opacity="0.8"/>
<g stroke="#EA928E" stroke-width="1.8" stroke-opacity="0.85" fill="none"><path d="M1017.6,658V666M1011.1,658h13M1011.1,666h13"/><path d="M1012,662H1023.2M1012,655.5v13M1023.2,655.5v13"/></g>
<circle cx="1017.6" cy="662" r="4.6" fill="#EA928E" fill-opacity="0.3" stroke="#EA928E" stroke-width="1.3" stroke-opacity="0.8"/>
<g stroke="#EA928E" stroke-width="1.8" stroke-opacity="0.85" fill="none"><path d="M1017.6,663V671M1011.1,663h13M1011.1,671h13"/><path d="M1012,667H1023.2M1012,660.5v13M1023.2,660.5v13"/></g>
<circle cx="1017.6" cy="667" r="4.6" fill="#EA928E" fill-opacity="0.3" stroke="#EA928E" stroke-width="1.3" stroke-opacity="0.8"/>
<g stroke="#EA928E" stroke-width="1.8" stroke-opacity="0.85" fill="none"><path d="M1017.6,668V676M1011.1,668h13M1011.1,676h13"/><path d="M1012,672H1023.2M1012,665.5v13M1023.2,665.5v13"/></g>
<circle cx="1017.6" cy="672" r="4.6" fill="#EA928E" fill-opacity="0.3" stroke="#EA928E" stroke-width="1.3" stroke-opacity="0.8"/>
<g stroke="#EA928E" stroke-width="1.8" stroke-opacity="0.85" fill="none"><path d="M1017.6,673.4V681.4M1011.1,673.4h13M1011.1,681.4h13"/><path d="M1012,677.4H1023.2M1012,670.9v13M1023.2,670.9v13"/></g>
<circle cx="1017.6" cy="677.4" r="4.6" fill="#EA928E" fill-opacity="0.3" stroke="#EA928E" stroke-width="1.3" stroke-opacity="0.8"/>
<g stroke="#EA928E" stroke-width="1.8" stroke-opacity="0.85" fill="none"><path d="M1051.2,652.3H1064.2M1051.2,645.8v13M1064.2,645.8v13"/></g>
<circle cx="1057.7" cy="652.3" r="4.6" fill="#EA928E" fill-opacity="0.3" stroke="#EA928E" stroke-width="1.3" stroke-opacity="0.8"/>
<g stroke="#EA928E" stroke-width="1.8" stroke-opacity="0.85" fill="none"><path d="M1091.5,640.2H1105.5M1091.5,633.7v13M1105.5,633.7v13"/></g>
<circle cx="1098.5" cy="640.2" r="4.6" fill="#EA928E" fill-opacity="0.3" stroke="#EA928E" stroke-width="1.3" stroke-opacity="0.8"/>
<g stroke="#EA928E" stroke-width="1.8" stroke-opacity="0.85" fill="none"><path d="M1131.3,636.3H1146.3M1131.3,629.8v13M1146.3,629.8v13"/></g>
<circle cx="1138.8" cy="636.3" r="4.6" fill="#EA928E" fill-opacity="0.3" stroke="#EA928E" stroke-width="1.3" stroke-opacity="0.8"/>
<g stroke="#EA928E" stroke-width="1.8" stroke-opacity="0.85" fill="none"><path d="M1171.2,628.2H1187.6M1171.2,621.7v13M1187.6,621.7v13"/></g>
<circle cx="1179.4" cy="628.2" r="4.6" fill="#EA928E" fill-opacity="0.3" stroke="#EA928E" stroke-width="1.3" stroke-opacity="0.8"/>
<g stroke="#EA928E" stroke-width="1.8" stroke-opacity="0.85" fill="none"><path d="M1211,622H1228.6M1211,615.5v13M1228.6,615.5v13"/></g>
<circle cx="1219.8" cy="622" r="4.6" fill="#EA928E" fill-opacity="0.3" stroke="#EA928E" stroke-width="1.3" stroke-opacity="0.8"/>
<g stroke="#EA928E" stroke-width="1.8" stroke-opacity="0.85" fill="none"><path d="M1260.2,608.8V616.8M1253.7,608.8h13M1253.7,616.8h13"/><path d="M1255.7,612.8H1264.7M1255.7,606.3v13M1264.7,606.3v13"/></g>
<circle cx="1260.2" cy="612.8" r="4.6" fill="#EA928E" fill-opacity="0.3" stroke="#EA928E" stroke-width="1.3" stroke-opacity="0.8"/>
<g stroke="#EA928E" stroke-width="1.6" stroke-opacity="0.85" fill="none"><path d="M856,817.6V831.6M853,817.6h6M853,831.6h6"/><path d="M849,824.6H863M849,821.6v6M863,821.6v6"/></g>
<circle cx="856" cy="824.6" r="4" fill="#E0524C" fill-opacity="0.7"/>
<text x="887.5" y="87.4" font-size="31.7" font-weight="bold" fill="#E0524C">K<tspan font-size="19" dy="5.5">α5</tspan><tspan dy="-5.5"> = 62 ± 11 M</tspan><tspan font-size="17" dy="-13.5" dx="-1">-1</tspan></text>
<text x="1031" y="451.8" font-size="31.7" font-weight="bold" fill="#DC4842">K<tspan font-size="19" dy="5.5">β5</tspan><tspan dy="-5.5"> = 181 ± 4 M</tspan><tspan font-size="17" dy="-13.5" dx="-1">-1</tspan></text>
<text x="1040.5" y="785" font-size="31.7" font-weight="bold" fill="#EA928E">K<tspan font-size="19" dy="5.5">γ5</tspan><tspan dy="-5.5"> = 52 ± 9 M</tspan><tspan font-size="17" dy="-13.5" dx="-1">-1</tspan></text>
<defs><radialGradient id="atom" cx="0.55" cy="0.4" r="0.65"><stop offset="0" stop-color="#FF7C78"/><stop offset="0.55" stop-color="#FA4C4C"/><stop offset="1" stop-color="#E63A3A"/></radialGradient><linearGradient id="cone" x1="0" x2="1" y1="0" y2="0"><stop offset="0" stop-color="#70BEF5"/><stop offset="0.12" stop-color="#80CCF9"/><stop offset="0.45" stop-color="#7CC7F8"/><stop offset="0.62" stop-color="#8ED5FB"/><stop offset="0.82" stop-color="#76C2F7"/><stop offset="1" stop-color="#60AEF0"/></linearGradient><linearGradient id="hole" x1="0" x2="1" y1="0" y2="0"><stop offset="0" stop-color="#54A3F0"/><stop offset="0.45" stop-color="#4297F1"/><stop offset="0.8" stop-color="#357FDC"/><stop offset="1" stop-color="#4E9CEE"/></linearGradient></defs>
<g><polyline points="1411.0,199.6 1411.0,177.6 1427.0,157.6 1453.0,143.6 1482.0,151.0" stroke="#F44C4C" stroke-width="2" fill="none"/><circle cx="1411.0" cy="199.6" r="7.4" fill="url(#atom)"/><circle cx="1411.0" cy="177.6" r="7.4" fill="url(#atom)"/><circle cx="1427.0" cy="157.6" r="7.4" fill="url(#atom)"/><circle cx="1453.0" cy="143.6" r="7.8" fill="url(#atom)"/><circle cx="1482.0" cy="151.0" r="7.4" fill="url(#atom)"/></g>
<path d="M1496.1,191H1523.1M1509.6,178V204" stroke="#000" stroke-width="4.4"/>
<g><polyline points="1412.0,460.6 1412.0,438.6 1428.0,418.6 1454.0,404.6 1483.0,412.0" stroke="#F44C4C" stroke-width="2" fill="none"/><circle cx="1412.0" cy="460.6" r="7.4" fill="url(#atom)"/><circle cx="1412.0" cy="438.6" r="7.4" fill="url(#atom)"/><circle cx="1428.0" cy="418.6" r="7.4" fill="url(#atom)"/><circle cx="1454.0" cy="404.6" r="7.8" fill="url(#atom)"/><circle cx="1483.0" cy="412.0" r="7.4" fill="url(#atom)"/></g>
<path d="M1496.5,452.4H1523.5M1510,439.4V465.4" stroke="#000" stroke-width="4.4"/>
<g><polyline points="1412.0,741.4 1412.0,719.4 1428.0,699.4 1454.0,685.4 1483.0,692.8" stroke="#F44C4C" stroke-width="2" fill="none"/><circle cx="1412.0" cy="741.4" r="7.4" fill="url(#atom)"/><circle cx="1412.0" cy="719.4" r="7.4" fill="url(#atom)"/><circle cx="1428.0" cy="699.4" r="7.4" fill="url(#atom)"/><circle cx="1454.0" cy="685.4" r="7.8" fill="url(#atom)"/><circle cx="1483.0" cy="692.8" r="7.4" fill="url(#atom)"/></g>
<path d="M1496.5,733.4H1523.5M1510,720.4V746.4" stroke="#000" stroke-width="4.4"/>
<defs><linearGradient id="coneV" x1="0" x2="0" y1="0" y2="1"><stop offset="0" stop-color="#3D8FEA" stop-opacity="0.25"/><stop offset="0.35" stop-color="#fff" stop-opacity="0"/><stop offset="0.85" stop-color="#fff" stop-opacity="0"/><stop offset="1" stop-color="#3D8FEA" stop-opacity="0.15"/></linearGradient></defs>
<path d="M1597.1,184.0 L1597.7,182.9 L1617.0,148.6 L1617.4,147.9 L1617.9,147.3 L1618.3,146.6 L1618.9,145.9 L1619.4,145.2 L1620.0,144.6 L1620.6,144.0 L1621.3,143.4 L1622.0,142.8 L1622.7,142.2 L1623.5,141.6 L1624.3,141.1 L1625.1,140.5 L1625.9,140.0 L1626.8,139.5 L1627.7,139.1 L1628.6,138.6 L1629.5,138.2 L1630.5,137.8 L1631.5,137.4 L1632.5,137.0 L1633.5,136.7 L1634.6,136.4 L1635.6,136.1 L1636.7,135.8 L1637.8,135.6 L1638.9,135.3 L1640.0,135.1 L1641.1,135.0 L1642.3,134.8 L1643.4,134.7 L1644.6,134.6 L1645.7,134.6 L1646.8,134.5 L1648.0,134.5 L1649.2,134.5 L1650.3,134.6 L1651.4,134.6 L1652.6,134.7 L1653.7,134.8 L1654.9,135.0 L1656.0,135.1 L1657.1,135.3 L1658.2,135.6 L1659.3,135.8 L1660.4,136.1 L1661.4,136.4 L1662.5,136.7 L1663.5,137.0 L1664.5,137.4 L1665.5,137.8 L1666.5,138.2 L1667.4,138.6 L1668.3,139.1 L1669.2,139.5 L1670.1,140.0 L1670.9,140.5 L1671.7,141.1 L1672.5,141.6 L1673.3,142.2 L1674.0,142.8 L1674.7,143.4 L1675.4,144.0 L1676.0,144.6 L1676.6,145.2 L1677.1,145.9 L1677.7,146.6 L1678.1,147.3 L1678.6,147.9 L1679.0,148.6 L1697.3,182.9 L1697.9,184.0 L1698.4,185.2 L1698.9,186.4 L1699.3,187.5 L1699.7,188.7 L1700.0,189.9 L1700.2,191.1 L1700.4,192.3 L1700.5,193.5 L1700.5,194.7 L1700.5,195.9 L1700.4,197.1 L1700.2,198.3 L1700.0,199.5 L1699.7,200.7 L1699.3,201.9 L1698.9,203.0 L1698.4,204.2 L1697.9,205.4 L1697.3,206.5 L1696.6,207.6 L1695.9,208.7 L1695.1,209.8 L1694.3,210.9 L1693.4,211.9 L1692.4,213.0 L1691.4,214.0 L1690.4,215.0 L1689.3,215.9 L1688.1,216.9 L1686.9,217.8 L1685.6,218.7 L1684.3,219.5 L1683.0,220.3 L1681.6,221.1 L1680.1,221.9 L1678.7,222.6 L1677.1,223.3 L1675.6,224.0 L1674.0,224.6 L1672.4,225.2 L1670.7,225.7 L1669.1,226.2 L1667.4,226.7 L1665.6,227.1 L1663.9,227.5 L1662.1,227.9 L1660.3,228.2 L1658.5,228.4 L1656.7,228.7 L1654.9,228.9 L1653.0,229.0 L1651.2,229.1 L1649.3,229.2 L1647.5,229.2 L1645.7,229.2 L1643.8,229.1 L1642.0,229.0 L1640.1,228.9 L1638.3,228.7 L1636.5,228.4 L1634.7,228.2 L1632.9,227.9 L1631.1,227.5 L1629.4,227.1 L1627.6,226.7 L1625.9,226.2 L1624.3,225.7 L1622.6,225.2 L1621.0,224.6 L1619.4,224.0 L1617.9,223.3 L1616.3,222.6 L1614.9,221.9 L1613.4,221.1 L1612.0,220.3 L1610.7,219.5 L1609.4,218.7 L1608.1,217.8 L1606.9,216.9 L1605.7,215.9 L1604.6,215.0 L1603.6,214.0 L1602.6,213.0 L1601.6,211.9 L1600.7,210.9 L1599.9,209.8 L1599.1,208.7 L1598.4,207.6 L1597.7,206.5 L1597.1,205.4 L1596.6,204.2 L1596.1,203.0 L1595.7,201.9 L1595.3,200.7 L1595.0,199.5 L1594.8,198.3 L1594.6,197.1 L1594.5,195.9 L1594.5,194.7 L1594.5,193.5 L1594.6,192.3 L1594.8,191.1 L1595.0,189.9 L1595.3,188.7 L1595.7,187.5 L1596.1,186.4 L1596.6,185.2Z" fill="url(#cone)"/><path d="M1597.1,184.0 L1597.7,182.9 L1617.0,148.6 L1617.4,147.9 L1617.9,147.3 L1618.3,146.6 L1618.9,145.9 L1619.4,145.2 L1620.0,144.6 L1620.6,144.0 L1621.3,143.4 L1622.0,142.8 L1622.7,142.2 L1623.5,141.6 L1624.3,141.1 L1625.1,140.5 L1625.9,140.0 L1626.8,139.5 L1627.7,139.1 L1628.6,138.6 L1629.5,138.2 L1630.5,137.8 L1631.5,137.4 L1632.5,137.0 L1633.5,136.7 L1634.6,136.4 L1635.6,136.1 L1636.7,135.8 L1637.8,135.6 L1638.9,135.3 L1640.0,135.1 L1641.1,135.0 L1642.3,134.8 L1643.4,134.7 L1644.6,134.6 L1645.7,134.6 L1646.8,134.5 L1648.0,134.5 L1649.2,134.5 L1650.3,134.6 L1651.4,134.6 L1652.6,134.7 L1653.7,134.8 L1654.9,135.0 L1656.0,135.1 L1657.1,135.3 L1658.2,135.6 L1659.3,135.8 L1660.4,136.1 L1661.4,136.4 L1662.5,136.7 L1663.5,137.0 L1664.5,137.4 L1665.5,137.8 L1666.5,138.2 L1667.4,138.6 L1668.3,139.1 L1669.2,139.5 L1670.1,140.0 L1670.9,140.5 L1671.7,141.1 L1672.5,141.6 L1673.3,142.2 L1674.0,142.8 L1674.7,143.4 L1675.4,144.0 L1676.0,144.6 L1676.6,145.2 L1677.1,145.9 L1677.7,146.6 L1678.1,147.3 L1678.6,147.9 L1679.0,148.6 L1697.3,182.9 L1697.9,184.0 L1698.4,185.2 L1698.9,186.4 L1699.3,187.5 L1699.7,188.7 L1700.0,189.9 L1700.2,191.1 L1700.4,192.3 L1700.5,193.5 L1700.5,194.7 L1700.5,195.9 L1700.4,197.1 L1700.2,198.3 L1700.0,199.5 L1699.7,200.7 L1699.3,201.9 L1698.9,203.0 L1698.4,204.2 L1697.9,205.4 L1697.3,206.5 L1696.6,207.6 L1695.9,208.7 L1695.1,209.8 L1694.3,210.9 L1693.4,211.9 L1692.4,213.0 L1691.4,214.0 L1690.4,215.0 L1689.3,215.9 L1688.1,216.9 L1686.9,217.8 L1685.6,218.7 L1684.3,219.5 L1683.0,220.3 L1681.6,221.1 L1680.1,221.9 L1678.7,222.6 L1677.1,223.3 L1675.6,224.0 L1674.0,224.6 L1672.4,225.2 L1670.7,225.7 L1669.1,226.2 L1667.4,226.7 L1665.6,227.1 L1663.9,227.5 L1662.1,227.9 L1660.3,228.2 L1658.5,228.4 L1656.7,228.7 L1654.9,228.9 L1653.0,229.0 L1651.2,229.1 L1649.3,229.2 L1647.5,229.2 L1645.7,229.2 L1643.8,229.1 L1642.0,229.0 L1640.1,228.9 L1638.3,228.7 L1636.5,228.4 L1634.7,228.2 L1632.9,227.9 L1631.1,227.5 L1629.4,227.1 L1627.6,226.7 L1625.9,226.2 L1624.3,225.7 L1622.6,225.2 L1621.0,224.6 L1619.4,224.0 L1617.9,223.3 L1616.3,222.6 L1614.9,221.9 L1613.4,221.1 L1612.0,220.3 L1610.7,219.5 L1609.4,218.7 L1608.1,217.8 L1606.9,216.9 L1605.7,215.9 L1604.6,215.0 L1603.6,214.0 L1602.6,213.0 L1601.6,211.9 L1600.7,210.9 L1599.9,209.8 L1599.1,208.7 L1598.4,207.6 L1597.7,206.5 L1597.1,205.4 L1596.6,204.2 L1596.1,203.0 L1595.7,201.9 L1595.3,200.7 L1595.0,199.5 L1594.8,198.3 L1594.6,197.1 L1594.5,195.9 L1594.5,194.7 L1594.5,193.5 L1594.6,192.3 L1594.8,191.1 L1595.0,189.9 L1595.3,188.7 L1595.7,187.5 L1596.1,186.4 L1596.6,185.2Z" fill="url(#coneV)"/><clipPath id="hc1"><ellipse cx="1647.5" cy="156" rx="29.5" ry="16.5"/></clipPath><ellipse cx="1647.5" cy="156" rx="29.5" ry="16.5" fill="url(#hole)"/><ellipse clip-path="url(#hc1)" cx="1647.5" cy="200.6" rx="36.9" ry="39.6" fill="#fff"/><text transform="translate(1650,215.7) scale(1.15,1)" font-family='"Liberation Serif", "DejaVu Serif", serif' font-size="56" text-anchor="middle" fill="#000" stroke="#84CDF9" stroke-width="1.1">α</text>
<path d="M1680.8,407.7 L1701.2,445.6 L1701.8,446.7 L1702.2,447.8 L1702.7,449.0 L1703.0,450.1 L1703.3,451.3 L1703.4,452.4 L1703.6,453.5 L1703.6,454.7 L1703.6,455.9 L1703.4,457.0 L1703.3,458.1 L1703.0,459.3 L1702.7,460.4 L1702.2,461.6 L1701.8,462.7 L1701.2,463.8 L1700.6,464.9 L1699.9,466.0 L1699.1,467.1 L1698.2,468.1 L1697.3,469.2 L1696.3,470.2 L1695.3,471.2 L1694.2,472.2 L1693.0,473.2 L1691.8,474.1 L1690.5,475.0 L1689.1,475.9 L1687.7,476.8 L1686.2,477.6 L1684.7,478.4 L1683.1,479.2 L1681.5,480.0 L1679.8,480.7 L1678.0,481.4 L1676.3,482.1 L1674.5,482.7 L1672.6,483.3 L1670.7,483.8 L1668.8,484.4 L1666.8,484.8 L1664.8,485.3 L1662.8,485.7 L1660.8,486.1 L1658.7,486.4 L1656.6,486.7 L1654.5,487.0 L1652.4,487.2 L1650.2,487.4 L1648.1,487.5 L1645.9,487.6 L1643.8,487.7 L1641.6,487.7 L1639.4,487.7 L1637.3,487.6 L1635.1,487.5 L1633.0,487.4 L1630.8,487.2 L1628.7,487.0 L1626.6,486.7 L1624.5,486.4 L1622.4,486.1 L1620.4,485.7 L1618.4,485.3 L1616.4,484.8 L1614.4,484.4 L1612.5,483.8 L1610.6,483.3 L1608.7,482.7 L1606.9,482.1 L1605.2,481.4 L1603.4,480.7 L1601.7,480.0 L1600.1,479.2 L1598.5,478.4 L1597.0,477.6 L1595.5,476.8 L1594.1,475.9 L1592.7,475.0 L1591.4,474.1 L1590.2,473.2 L1589.0,472.2 L1587.9,471.2 L1586.9,470.2 L1585.9,469.2 L1585.0,468.1 L1584.1,467.1 L1583.3,466.0 L1582.6,464.9 L1582.0,463.8 L1581.4,462.7 L1581.0,461.6 L1580.5,460.4 L1580.2,459.3 L1579.9,458.1 L1579.8,457.0 L1579.6,455.9 L1579.6,454.7 L1579.6,453.5 L1579.8,452.4 L1579.9,451.3 L1580.2,450.1 L1580.5,449.0 L1581.0,447.8 L1581.4,446.7 L1582.0,445.6 L1603.2,407.7 L1603.5,407.1 L1604.0,406.4 L1604.4,405.8 L1604.9,405.2 L1605.5,404.6 L1606.0,404.0 L1606.7,403.4 L1607.4,402.8 L1608.1,402.2 L1608.8,401.7 L1609.6,401.1 L1610.5,400.6 L1611.4,400.1 L1612.3,399.6 L1613.2,399.1 L1614.2,398.6 L1615.2,398.2 L1616.3,397.7 L1617.4,397.3 L1618.5,396.9 L1619.6,396.5 L1620.8,396.2 L1622.0,395.8 L1623.2,395.5 L1624.5,395.2 L1625.7,394.9 L1627.0,394.7 L1628.3,394.4 L1629.6,394.2 L1631.0,394.0 L1632.3,393.9 L1633.7,393.7 L1635.1,393.6 L1636.4,393.5 L1637.8,393.4 L1639.2,393.3 L1640.6,393.3 L1642.0,393.3 L1643.4,393.3 L1644.8,393.3 L1646.2,393.4 L1647.6,393.5 L1648.9,393.6 L1650.3,393.7 L1651.7,393.9 L1653.0,394.0 L1654.4,394.2 L1655.7,394.4 L1657.0,394.7 L1658.3,394.9 L1659.5,395.2 L1660.8,395.5 L1662.0,395.8 L1663.2,396.2 L1664.4,396.5 L1665.5,396.9 L1666.6,397.3 L1667.7,397.7 L1668.8,398.2 L1669.8,398.6 L1670.8,399.1 L1671.7,399.6 L1672.6,400.1 L1673.5,400.6 L1674.4,401.1 L1675.2,401.7 L1675.9,402.2 L1676.6,402.8 L1677.3,403.4 L1678.0,404.0 L1678.5,404.6 L1679.1,405.2 L1679.6,405.8 L1680.0,406.4 L1680.5,407.1Z" fill="url(#cone)"/><path d="M1680.8,407.7 L1701.2,445.6 L1701.8,446.7 L1702.2,447.8 L1702.7,449.0 L1703.0,450.1 L1703.3,451.3 L1703.4,452.4 L1703.6,453.5 L1703.6,454.7 L1703.6,455.9 L1703.4,457.0 L1703.3,458.1 L1703.0,459.3 L1702.7,460.4 L1702.2,461.6 L1701.8,462.7 L1701.2,463.8 L1700.6,464.9 L1699.9,466.0 L1699.1,467.1 L1698.2,468.1 L1697.3,469.2 L1696.3,470.2 L1695.3,471.2 L1694.2,472.2 L1693.0,473.2 L1691.8,474.1 L1690.5,475.0 L1689.1,475.9 L1687.7,476.8 L1686.2,477.6 L1684.7,478.4 L1683.1,479.2 L1681.5,480.0 L1679.8,480.7 L1678.0,481.4 L1676.3,482.1 L1674.5,482.7 L1672.6,483.3 L1670.7,483.8 L1668.8,484.4 L1666.8,484.8 L1664.8,485.3 L1662.8,485.7 L1660.8,486.1 L1658.7,486.4 L1656.6,486.7 L1654.5,487.0 L1652.4,487.2 L1650.2,487.4 L1648.1,487.5 L1645.9,487.6 L1643.8,487.7 L1641.6,487.7 L1639.4,487.7 L1637.3,487.6 L1635.1,487.5 L1633.0,487.4 L1630.8,487.2 L1628.7,487.0 L1626.6,486.7 L1624.5,486.4 L1622.4,486.1 L1620.4,485.7 L1618.4,485.3 L1616.4,484.8 L1614.4,484.4 L1612.5,483.8 L1610.6,483.3 L1608.7,482.7 L1606.9,482.1 L1605.2,481.4 L1603.4,480.7 L1601.7,480.0 L1600.1,479.2 L1598.5,478.4 L1597.0,477.6 L1595.5,476.8 L1594.1,475.9 L1592.7,475.0 L1591.4,474.1 L1590.2,473.2 L1589.0,472.2 L1587.9,471.2 L1586.9,470.2 L1585.9,469.2 L1585.0,468.1 L1584.1,467.1 L1583.3,466.0 L1582.6,464.9 L1582.0,463.8 L1581.4,462.7 L1581.0,461.6 L1580.5,460.4 L1580.2,459.3 L1579.9,458.1 L1579.8,457.0 L1579.6,455.9 L1579.6,454.7 L1579.6,453.5 L1579.8,452.4 L1579.9,451.3 L1580.2,450.1 L1580.5,449.0 L1581.0,447.8 L1581.4,446.7 L1582.0,445.6 L1603.2,407.7 L1603.5,407.1 L1604.0,406.4 L1604.4,405.8 L1604.9,405.2 L1605.5,404.6 L1606.0,404.0 L1606.7,403.4 L1607.4,402.8 L1608.1,402.2 L1608.8,401.7 L1609.6,401.1 L1610.5,400.6 L1611.4,400.1 L1612.3,399.6 L1613.2,399.1 L1614.2,398.6 L1615.2,398.2 L1616.3,397.7 L1617.4,397.3 L1618.5,396.9 L1619.6,396.5 L1620.8,396.2 L1622.0,395.8 L1623.2,395.5 L1624.5,395.2 L1625.7,394.9 L1627.0,394.7 L1628.3,394.4 L1629.6,394.2 L1631.0,394.0 L1632.3,393.9 L1633.7,393.7 L1635.1,393.6 L1636.4,393.5 L1637.8,393.4 L1639.2,393.3 L1640.6,393.3 L1642.0,393.3 L1643.4,393.3 L1644.8,393.3 L1646.2,393.4 L1647.6,393.5 L1648.9,393.6 L1650.3,393.7 L1651.7,393.9 L1653.0,394.0 L1654.4,394.2 L1655.7,394.4 L1657.0,394.7 L1658.3,394.9 L1659.5,395.2 L1660.8,395.5 L1662.0,395.8 L1663.2,396.2 L1664.4,396.5 L1665.5,396.9 L1666.6,397.3 L1667.7,397.7 L1668.8,398.2 L1669.8,398.6 L1670.8,399.1 L1671.7,399.6 L1672.6,400.1 L1673.5,400.6 L1674.4,401.1 L1675.2,401.7 L1675.9,402.2 L1676.6,402.8 L1677.3,403.4 L1678.0,404.0 L1678.5,404.6 L1679.1,405.2 L1679.6,405.8 L1680.0,406.4 L1680.5,407.1Z" fill="url(#coneV)"/><clipPath id="hc2"><ellipse cx="1641.9" cy="412.3" rx="37" ry="15.4"/></clipPath><ellipse cx="1641.9" cy="412.3" rx="37" ry="15.4" fill="url(#hole)"/><ellipse clip-path="url(#hc2)" cx="1641.9" cy="462.3" rx="46.2" ry="37.0" fill="#fff"/><text transform="translate(1642.7,473.5) scale(1.12,1)" font-family='"Liberation Serif", "DejaVu Serif", serif' font-size="58.5" text-anchor="middle" fill="#000" stroke="#84CDF9" stroke-width="1.1">β</text>
<path d="M1695.8,691.9 L1716.9,730.8 L1717.5,732.0 L1718.0,733.3 L1718.5,734.6 L1718.9,735.9 L1719.1,737.1 L1719.3,738.4 L1719.5,739.7 L1719.5,741.0 L1719.5,742.3 L1719.3,743.6 L1719.1,744.9 L1718.9,746.1 L1718.5,747.4 L1718.0,748.7 L1717.5,750.0 L1716.9,751.2 L1716.2,752.4 L1715.5,753.7 L1714.7,754.9 L1713.8,756.0 L1712.8,757.2 L1711.7,758.4 L1710.6,759.5 L1709.4,760.6 L1708.1,761.7 L1706.8,762.7 L1705.4,763.8 L1703.9,764.8 L1702.4,765.8 L1700.8,766.7 L1699.2,767.6 L1697.5,768.5 L1695.7,769.3 L1693.9,770.2 L1692.1,770.9 L1690.2,771.7 L1688.2,772.4 L1686.2,773.0 L1684.2,773.7 L1682.2,774.3 L1680.0,774.8 L1677.9,775.3 L1675.7,775.8 L1673.5,776.2 L1671.3,776.6 L1669.1,776.9 L1666.8,777.2 L1664.5,777.4 L1662.3,777.6 L1660.0,777.8 L1657.6,777.9 L1655.3,778.0 L1653.0,778.0 L1650.7,778.0 L1648.4,777.9 L1646.0,777.8 L1643.7,777.6 L1641.5,777.4 L1639.2,777.2 L1636.9,776.9 L1634.7,776.6 L1632.5,776.2 L1630.3,775.8 L1628.1,775.3 L1626.0,774.8 L1623.8,774.3 L1621.8,773.7 L1619.8,773.0 L1617.8,772.4 L1615.8,771.7 L1613.9,770.9 L1612.1,770.2 L1610.3,769.3 L1608.5,768.5 L1606.8,767.6 L1605.2,766.7 L1603.6,765.8 L1602.1,764.8 L1600.6,763.8 L1599.2,762.7 L1597.9,761.7 L1596.6,760.6 L1595.4,759.5 L1594.3,758.4 L1593.2,757.2 L1592.2,756.0 L1591.3,754.9 L1590.5,753.7 L1589.8,752.4 L1589.1,751.2 L1588.5,750.0 L1588.0,748.7 L1587.5,747.4 L1587.1,746.1 L1586.9,744.9 L1586.7,743.6 L1586.5,742.3 L1586.5,741.0 L1586.5,739.7 L1586.7,738.4 L1586.9,737.1 L1587.1,735.9 L1587.5,734.6 L1588.0,733.3 L1588.5,732.0 L1589.1,730.8 L1589.8,729.6 L1611.2,691.9 L1611.7,691.2 L1612.2,690.5 L1612.7,689.8 L1613.3,689.1 L1614.0,688.4 L1614.7,687.7 L1615.4,687.0 L1616.2,686.3 L1617.0,685.7 L1617.9,685.1 L1618.8,684.5 L1619.8,683.9 L1620.8,683.3 L1621.8,682.7 L1622.9,682.2 L1624.1,681.7 L1625.2,681.1 L1626.4,680.7 L1627.6,680.2 L1628.9,679.8 L1630.2,679.3 L1631.5,678.9 L1632.8,678.6 L1634.2,678.2 L1635.6,677.9 L1637.0,677.6 L1638.5,677.3 L1639.9,677.1 L1641.4,676.9 L1642.9,676.7 L1644.4,676.5 L1645.9,676.3 L1647.4,676.2 L1648.9,676.1 L1650.4,676.1 L1652.0,676.0 L1653.5,676.0 L1655.0,676.0 L1656.6,676.1 L1658.1,676.1 L1659.6,676.2 L1661.1,676.3 L1662.6,676.5 L1664.1,676.7 L1665.6,676.9 L1667.1,677.1 L1668.5,677.3 L1670.0,677.6 L1671.4,677.9 L1672.8,678.2 L1674.2,678.6 L1675.5,678.9 L1676.8,679.3 L1678.1,679.8 L1679.4,680.2 L1680.6,680.7 L1681.8,681.1 L1682.9,681.7 L1684.1,682.2 L1685.2,682.7 L1686.2,683.3 L1687.2,683.9 L1688.2,684.5 L1689.1,685.1 L1690.0,685.7 L1690.8,686.3 L1691.6,687.0 L1692.3,687.7 L1693.0,688.4 L1693.7,689.1 L1694.3,689.8 L1694.8,690.5 L1695.3,691.2Z" fill="url(#cone)"/><path d="M1695.8,691.9 L1716.9,730.8 L1717.5,732.0 L1718.0,733.3 L1718.5,734.6 L1718.9,735.9 L1719.1,737.1 L1719.3,738.4 L1719.5,739.7 L1719.5,741.0 L1719.5,742.3 L1719.3,743.6 L1719.1,744.9 L1718.9,746.1 L1718.5,747.4 L1718.0,748.7 L1717.5,750.0 L1716.9,751.2 L1716.2,752.4 L1715.5,753.7 L1714.7,754.9 L1713.8,756.0 L1712.8,757.2 L1711.7,758.4 L1710.6,759.5 L1709.4,760.6 L1708.1,761.7 L1706.8,762.7 L1705.4,763.8 L1703.9,764.8 L1702.4,765.8 L1700.8,766.7 L1699.2,767.6 L1697.5,768.5 L1695.7,769.3 L1693.9,770.2 L1692.1,770.9 L1690.2,771.7 L1688.2,772.4 L1686.2,773.0 L1684.2,773.7 L1682.2,774.3 L1680.0,774.8 L1677.9,775.3 L1675.7,775.8 L1673.5,776.2 L1671.3,776.6 L1669.1,776.9 L1666.8,777.2 L1664.5,777.4 L1662.3,777.6 L1660.0,777.8 L1657.6,777.9 L1655.3,778.0 L1653.0,778.0 L1650.7,778.0 L1648.4,777.9 L1646.0,777.8 L1643.7,777.6 L1641.5,777.4 L1639.2,777.2 L1636.9,776.9 L1634.7,776.6 L1632.5,776.2 L1630.3,775.8 L1628.1,775.3 L1626.0,774.8 L1623.8,774.3 L1621.8,773.7 L1619.8,773.0 L1617.8,772.4 L1615.8,771.7 L1613.9,770.9 L1612.1,770.2 L1610.3,769.3 L1608.5,768.5 L1606.8,767.6 L1605.2,766.7 L1603.6,765.8 L1602.1,764.8 L1600.6,763.8 L1599.2,762.7 L1597.9,761.7 L1596.6,760.6 L1595.4,759.5 L1594.3,758.4 L1593.2,757.2 L1592.2,756.0 L1591.3,754.9 L1590.5,753.7 L1589.8,752.4 L1589.1,751.2 L1588.5,750.0 L1588.0,748.7 L1587.5,747.4 L1587.1,746.1 L1586.9,744.9 L1586.7,743.6 L1586.5,742.3 L1586.5,741.0 L1586.5,739.7 L1586.7,738.4 L1586.9,737.1 L1587.1,735.9 L1587.5,734.6 L1588.0,733.3 L1588.5,732.0 L1589.1,730.8 L1589.8,729.6 L1611.2,691.9 L1611.7,691.2 L1612.2,690.5 L1612.7,689.8 L1613.3,689.1 L1614.0,688.4 L1614.7,687.7 L1615.4,687.0 L1616.2,686.3 L1617.0,685.7 L1617.9,685.1 L1618.8,684.5 L1619.8,683.9 L1620.8,683.3 L1621.8,682.7 L1622.9,682.2 L1624.1,681.7 L1625.2,681.1 L1626.4,680.7 L1627.6,680.2 L1628.9,679.8 L1630.2,679.3 L1631.5,678.9 L1632.8,678.6 L1634.2,678.2 L1635.6,677.9 L1637.0,677.6 L1638.5,677.3 L1639.9,677.1 L1641.4,676.9 L1642.9,676.7 L1644.4,676.5 L1645.9,676.3 L1647.4,676.2 L1648.9,676.1 L1650.4,676.1 L1652.0,676.0 L1653.5,676.0 L1655.0,676.0 L1656.6,676.1 L1658.1,676.1 L1659.6,676.2 L1661.1,676.3 L1662.6,676.5 L1664.1,676.7 L1665.6,676.9 L1667.1,677.1 L1668.5,677.3 L1670.0,677.6 L1671.4,677.9 L1672.8,678.2 L1674.2,678.6 L1675.5,678.9 L1676.8,679.3 L1678.1,679.8 L1679.4,680.2 L1680.6,680.7 L1681.8,681.1 L1682.9,681.7 L1684.1,682.2 L1685.2,682.7 L1686.2,683.3 L1687.2,683.9 L1688.2,684.5 L1689.1,685.1 L1690.0,685.7 L1690.8,686.3 L1691.6,687.0 L1692.3,687.7 L1693.0,688.4 L1693.7,689.1 L1694.3,689.8 L1694.8,690.5 L1695.3,691.2Z" fill="url(#coneV)"/><clipPath id="hc3"><ellipse cx="1653.7" cy="697.8" rx="41" ry="19.7"/></clipPath><ellipse cx="1653.7" cy="697.8" rx="41" ry="19.7" fill="url(#hole)"/><ellipse clip-path="url(#hc3)" cx="1653.7" cy="755.6" rx="51.2" ry="47.3" fill="#fff"/><text transform="translate(1650.8,755) scale(0.83,1)" font-family='"DejaVu Serif", serif' font-size="58.5" text-anchor="middle" fill="#000" stroke="#84CDF9" stroke-width="1.1">γ</text>
</svg>
</body></html>
